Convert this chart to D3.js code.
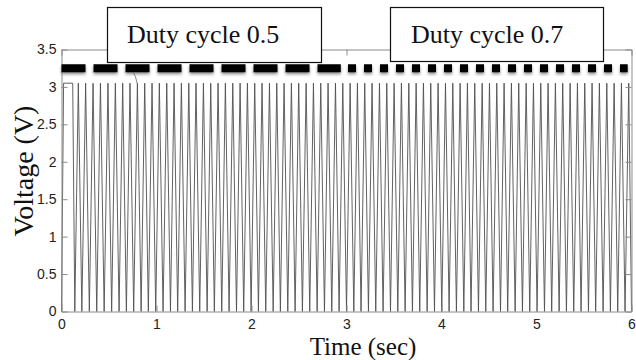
<!DOCTYPE html>
<html>
<head>
<meta charset="utf-8">
<script src="https://cdn.jsdelivr.net/npm/d3@7"></script>
<style>
  body { margin: 0; background: #fff; }
  .tick text { font-family: "Liberation Sans", Arial, sans-serif; font-size: 14px; fill: #222; }
  .serif { font-family: "Liberation Serif", "Times New Roman", serif; }
</style>
</head>
<body>
<div id="chart-area"></div>
<script>
// values
const xTicks = [0, 1, 2, 3, 4, 5, 6];
const xTickLabels = ['0', '1', '2', '3', '4', '5', '6'];
const yTicks = [0, 0.5, 1, 1.5, 2, 2.5, 3, 3.5];
const yTickLabels = ['0', '0.5', '1', '1.5', '2', '2.5', '3', '3.5'];

// waveform turning points (sec)
const troughTimes = [0.000, 0.140, 0.214, 0.293, 0.371, 0.449, 0.528, 0.606, 0.683, 0.760, 0.838, 0.914,
    0.992, 1.069, 1.147, 1.223, 1.301, 1.378, 1.455, 1.533, 1.609, 1.687, 1.764, 1.842, 1.918, 1.996,
    2.073, 2.150, 2.228, 2.304, 2.382, 2.459, 2.536, 2.613, 2.691, 2.768, 2.845, 2.922, 3.000, 3.077,
    3.153, 3.231, 3.308, 3.385, 3.463, 3.540, 3.617, 3.694, 3.771, 3.849, 3.926, 4.003, 4.080, 4.157,
    4.235, 4.311, 4.389, 4.466, 4.543, 4.621, 4.697, 4.775, 4.852, 4.929, 5.006, 5.084, 5.160, 5.238,
    5.315, 5.392, 5.469, 5.547, 5.623, 5.701, 5.778, 5.855, 5.932, 6.000];
const peakTimes = [0.022, 0.118, 0.177, 0.254, 0.332, 0.410, 0.489, 0.567, 0.644, 0.721, 0.799, 0.876, 0.953,
    1.030, 1.108, 1.185, 1.262, 1.340, 1.416, 1.494, 1.571, 1.648, 1.725, 1.803, 1.880, 1.957, 2.034,
    2.111, 2.189, 2.266, 2.343, 2.420, 2.497, 2.575, 2.652, 2.729, 2.806, 2.884, 2.961, 3.038, 3.115,
    3.192, 3.269, 3.347, 3.424, 3.501, 3.578, 3.656, 3.733, 3.810, 3.887, 3.964, 4.042, 4.119, 4.196,
    4.273, 4.350, 4.428, 4.505, 4.582, 4.659, 4.736, 4.813, 4.891, 4.968, 5.045, 5.122, 5.199, 5.276,
    5.354, 5.431, 5.508, 5.585, 5.662, 5.740, 5.817, 5.894, 5.971];
const lowVolt = 0;
const highVolt = 3.05;

// duty-cycle marker lines
const dutyLevel = 3.25;
const duty05Span = [0, 2.94];
const duty07Span = [3.016, 5.96];
const boxLabels = ['Duty cycle 0.5', 'Duty cycle 0.7'];

const W = 636, H = 360;
const plotLeft = 61.5, plotRight = 631.5, plotTop = 49.5, plotBottom = 311.5;

const svg = d3.select('#chart-area')
    .append('svg')
    .attr('width', W)
    .attr('height', H);

const x = d3.scaleLinear().domain([0, 6]).range([plotLeft, plotRight]);
const y = d3.scaleLinear().domain([0, 3.5]).range([plotBottom, plotTop]);

const defs = svg.append('defs');
const shadow = defs.append('filter').attr('id', 'soft')
    .attr('filterUnits', 'userSpaceOnUse')
    .attr('x', 0).attr('y', 0).attr('width', W).attr('height', H);
shadow.append('feDropShadow')
    .attr('dx', 0).attr('dy', 2).attr('stdDeviation', 1.8)
    .attr('flood-color', '#000').attr('flood-opacity', 0.45);

// waveform
const wave = troughTimes.map(t => ({ t: t, v: lowVolt }))
    .concat(peakTimes.map(t => ({ t: t, v: highVolt })))
    .sort((a, b) => a.t - b.t);

const line = d3.line().x(d => x(d.t)).y(d => y(d.v));

svg.append('path')
    .datum(wave)
    .attr('d', line)
    .attr('fill', 'none')
    .attr('stroke', '#505050')
    .attr('stroke-width', 0.9);

// axes box
const axisColor = '#8a8a8a';
svg.append('g')
    .attr('transform', `translate(0,${plotBottom})`)
    .call(d3.axisBottom(x).tickValues(xTicks).tickFormat((d, i) => xTickLabels[i]).tickSizeInner(-6).tickSizeOuter(0).tickPadding(8))
    .call(g => g.select('.domain').attr('stroke', axisColor))
    .call(g => g.selectAll('.tick line').attr('stroke', axisColor));

svg.append('g')
    .attr('transform', `translate(0,${plotTop})`)
    .call(d3.axisTop(x).tickValues(xTicks).tickFormat('').tickSizeInner(-6).tickSizeOuter(0))
    .call(g => g.select('.domain').attr('stroke', axisColor))
    .call(g => g.selectAll('.tick line').attr('stroke', axisColor));

svg.append('g')
    .attr('transform', `translate(${plotLeft},0)`)
    .call(d3.axisLeft(y).tickValues(yTicks).tickFormat((d, i) => yTickLabels[i]).tickSizeInner(-6).tickSizeOuter(0).tickPadding(5))
    .call(g => g.select('.domain').attr('stroke', axisColor))
    .call(g => g.selectAll('.tick line').attr('stroke', axisColor));

svg.append('g')
    .attr('transform', `translate(${plotRight},0)`)
    .call(d3.axisRight(y).tickValues(yTicks).tickFormat('').tickSizeInner(-6).tickSizeOuter(0))
    .call(g => g.select('.domain').attr('stroke', axisColor))
    .call(g => g.selectAll('.tick line').attr('stroke', axisColor));

// duty-cycle markers
svg.append('line')
    .attr('x1', x(duty05Span[0])).attr('x2', x(duty05Span[1]))
    .attr('y1', y(dutyLevel)).attr('y2', y(dutyLevel))
    .attr('stroke', '#000').attr('stroke-width', 8)
    .attr('stroke-dasharray', '24 8')
    .attr('filter', 'url(#soft)');

svg.append('line')
    .attr('x1', x(duty07Span[0])).attr('x2', x(duty07Span[1]))
    .attr('y1', y(dutyLevel)).attr('y2', y(dutyLevel))
    .attr('stroke', '#000').attr('stroke-width', 8)
    .attr('stroke-dasharray', '8 8')
    .attr('filter', 'url(#soft)');

// small pointer under the first box
svg.append('path')
    .attr('d', 'M133,72 Q136,76 137,83')
    .attr('fill', 'none')
    .attr('stroke', '#666')
    .attr('stroke-width', 0.8);

// label boxes
const boxes = [
    { x: 107, y: 7, w: 214, h: 55, tx: 127 },
    { x: 390, y: 7, w: 213, h: 54, tx: 411 }
];
boxes.forEach((b, i) => {
    svg.append('rect')
        .attr('x', b.x + 0.5).attr('y', b.y + 0.5)
        .attr('width', b.w).attr('height', b.h)
        .attr('fill', '#fff').attr('stroke', '#111').attr('stroke-width', 1.2);
    svg.append('text')
        .attr('class', 'serif')
        .attr('x', b.tx).attr('y', 43)
        .attr('font-size', 26)
        .attr('fill', '#111')
        .text(boxLabels[i]);
});

// axis titles
svg.append('text')
    .attr('class', 'serif')
    .attr('text-anchor', 'middle')
    .attr('x', 363)
    .attr('y', 355)
    .attr('font-size', 25)
    .attr('fill', '#111')
    .text('Time (sec)');

svg.append('text')
    .attr('class', 'serif')
    .attr('text-anchor', 'middle')
    .attr('transform', 'rotate(-90)')
    .attr('x', -171)
    .attr('y', 33)
    .attr('font-size', 28)
    .attr('fill', '#111')
    .text('Voltage (V)');
</script>
</body>
</html>
